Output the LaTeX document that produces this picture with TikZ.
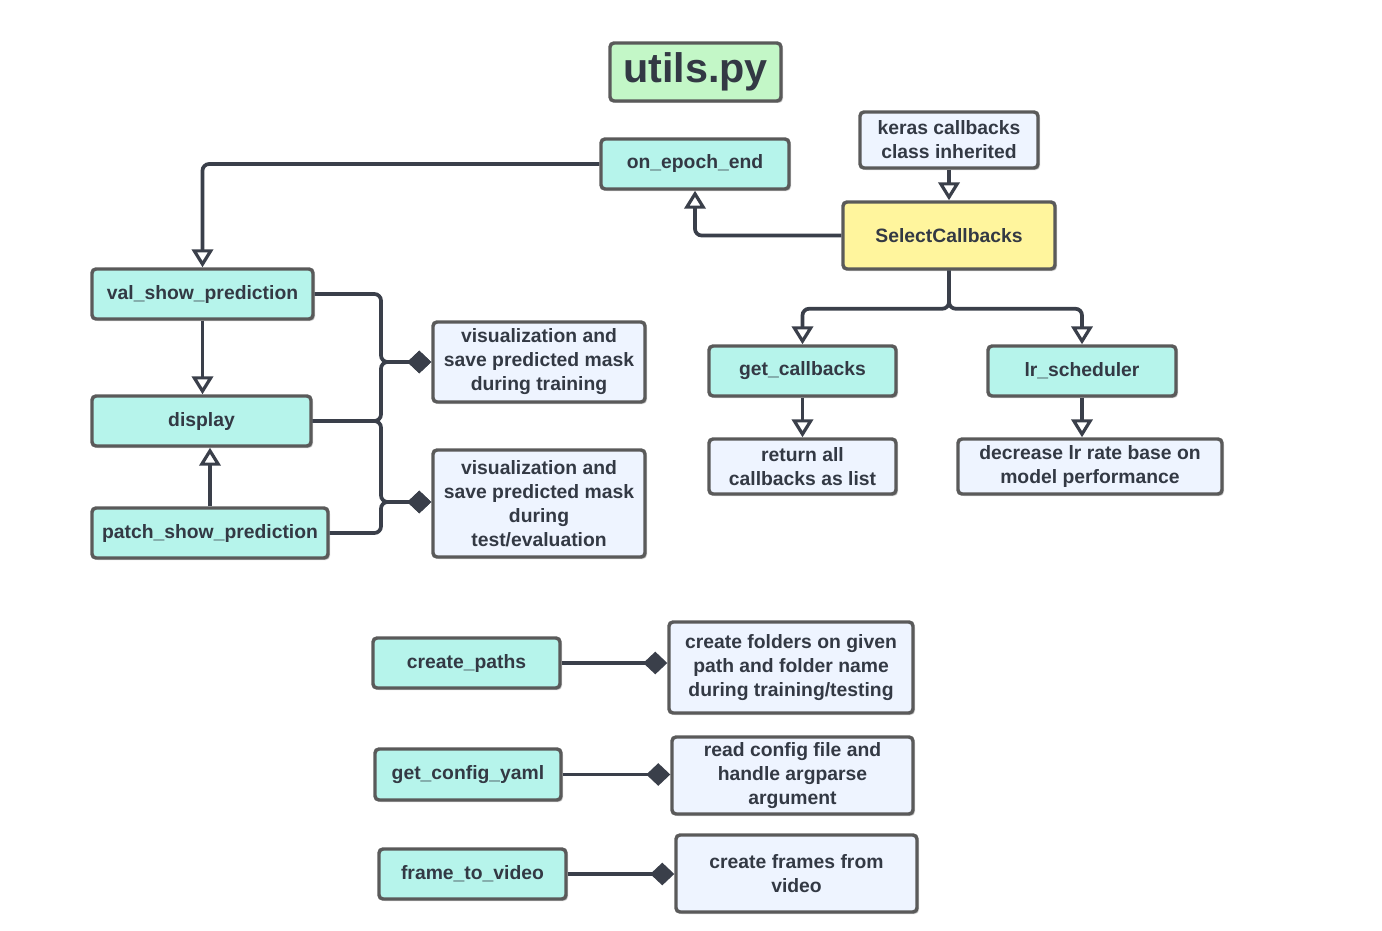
\documentclass[tikz,border=0pt]{standalone}
\usepackage{fontspec}
\setmainfont{Liberation Sans}
\usetikzlibrary{arrows.meta,shadows}

\definecolor{fnfill}{RGB}{182,244,235}
\definecolor{notefill}{RGB}{238,244,255}
\definecolor{clsfill}{RGB}{255,245,157}
\definecolor{titlefill}{RGB}{195,247,199}
\definecolor{boxline}{RGB}{90,90,90}
\definecolor{wire}{RGB}{58,63,74}
\definecolor{ink}{RGB}{51,57,68}

\tikzset{
  sz/.style 2 args={minimum width=#1*0.75pt, minimum height=#2*0.75pt},
  base/.style={draw=boxline, line width=2.6pt, rounded corners=3pt, inner sep=0pt,
    align=center, text=ink, font=\bfseries\fontsize{14.5}{18}\selectfont,
    drop shadow={shadow xshift=1.5pt, shadow yshift=-1.5pt, opacity=0.18, fill=black}},
  fnbox/.style={base, fill=fnfill},
  notebox/.style={base, fill=notefill},
  clsbox/.style={base, fill=clsfill},
  wirearrow/.style={draw=wire, line width=2.8pt, rounded corners=5pt,
    -{Triangle[open, width=16pt, length=13.5pt, line width=2.4pt]}},
  wirediamond/.style={draw=wire, line width=2.8pt, rounded corners=5pt,
    -{Diamond[width=17pt, length=18pt]}}
}

\begin{document}
\begin{tikzpicture}[x=0.75pt, y=-0.75pt]
  \useasboundingbox (0,0) rectangle (1382,931);

  % title
  \node[base, fill=titlefill, sz={171}{58}, font=\bfseries\fontsize{31}{36}\selectfont] (title) at (695.5,72) {utils.py};

  % callbacks part
  \node[fnbox, sz={188}{50}] (oee) at (695,164) {on\_epoch\_end};
  \node[notebox, sz={178}{56}] (keras) at (949,140) {keras callbacks\\class inherited};
  \node[clsbox, sz={212}{67}] (sc) at (949,235.5) {SelectCallbacks};
  \node[fnbox, sz={187}{50}] (gc) at (802.5,371) {get\_callbacks};
  \node[notebox, sz={187}{55}] (ret) at (802.5,466.5) {return all\\callbacks as list};
  \node[fnbox, sz={188}{50}] (lr) at (1082,371) {lr\_scheduler};
  \node[notebox, sz={264}{55}] (dec) at (1090,466.5) {decrease lr rate base on\\model performance};

  % prediction part
  \node[fnbox, sz={221}{50}] (val) at (202.5,294) {val\_show\_prediction};
  \node[fnbox, sz={219}{50}] (disp) at (201.5,421) {display};
  \node[fnbox, sz={236}{50}] (patch) at (210,533) {patch\_show\_prediction};
  \node[notebox, sz={212}{80}] (vis1) at (539,362) {visualization and\\save predicted mask\\during training};
  \node[notebox, sz={212}{107}] (vis2) at (539,503.5) {visualization and\\save predicted mask\\during\\test/evaluation};

  % helpers
  \node[fnbox, sz={187}{50}] (cp) at (466.5,663) {create\_paths};
  \node[notebox, sz={244}{91}] (cf) at (791,667.5) {create folders on given\\path and folder name\\during training/testing};
  \node[fnbox, sz={186}{51}] (gcy) at (468,774.5) {get\_config\_yaml};
  \node[notebox, sz={241}{77}] (rc) at (792.5,775.5) {read config file and\\handle argparse\\argument};
  \node[fnbox, sz={187}{50}] (ftv) at (472.5,874) {frame\_to\_video};
  \node[notebox, sz={241}{77}] (cfv) at (796.5,873.5) {create frames from\\video};

  \coordinate (j1) at (381,362);
  \coordinate (j2) at (381,502);

  % connectors
  \draw[wirearrow] (oee.west) -| (val.north);
  \draw[wirearrow] (sc.west) -| (oee.south);
  \draw[wirearrow] (keras.south) -- (sc.north);
  \draw[wirearrow] (sc.south) -- ++(0,38) -| (gc.north);
  \draw[wirearrow] (sc.south) -- ++(0,38) -| (lr.north);
  \draw[wirearrow] (gc.south) -- (ret.north);
  \draw[wirearrow] (lr.south) -- (lr.south |- dec.north);
  \draw[wirearrow] (val.south) -- (val.south |- disp.north);
  \draw[wirearrow] (patch.north) -- (patch.north |- disp.south);

  \draw[wirediamond] (val.east) -| (j1) -- (j1 -| vis1.west);
  \draw[wirediamond] (disp.east) -| (j1) -- (j1 -| vis1.west);
  \draw[wirediamond] (disp.east) -| (j2) -- (j2 -| vis2.west);
  \draw[wirediamond] (patch.east) -| (j2) -- (j2 -| vis2.west);

  \draw[wirediamond] (cp.east) -- (cp.east -| cf.west);
  \draw[wirediamond] (gcy.east) -- (gcy.east -| rc.west);
  \draw[wirediamond] (ftv.east) -- (ftv.east -| cfv.west);
\end{tikzpicture}
\end{document}
